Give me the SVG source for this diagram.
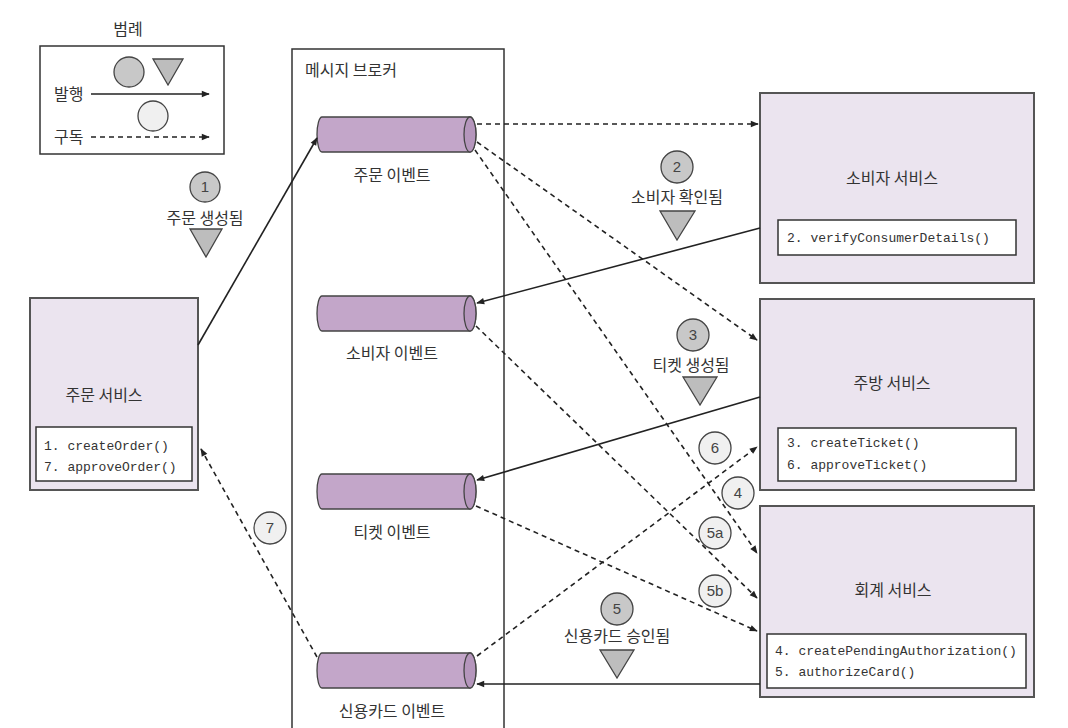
<svg xmlns="http://www.w3.org/2000/svg" width="1068" height="728" viewBox="0 0 1068 728">
<style>
.t{font-family:"Noto Sans CJK KR","Liberation Sans",sans-serif;font-size:16px;fill:#333}
.c{font-family:"Liberation Mono","DejaVu Sans Mono",monospace;font-size:13px;fill:#333}
.n{font-family:"Liberation Sans",sans-serif;font-size:15px;fill:#444;text-anchor:middle}
.svc{fill:#ebe4ef;stroke:#555;stroke-width:2}
.inner{fill:#fff;stroke:#333;stroke-width:1.5}
.cyl{fill:#c3a6c9;stroke:#444;stroke-width:1.3}
.cylend{fill:#b596bc;stroke:#444;stroke-width:1.3}
.pub{fill:none;stroke:#222;stroke-width:1.6}
.sub{fill:none;stroke:#222;stroke-width:1.6;stroke-dasharray:5,4}
.gc{fill:#c8c8c8;stroke:#444;stroke-width:1.3}
.wc{fill:#f0f0f0;stroke:#444;stroke-width:1.3}
.tri{fill:#bdbdbd;stroke:#444;stroke-width:1.3}
</style>
<defs>
<marker id="ah" viewBox="0 0 10 10" refX="9" refY="5" markerWidth="10" markerHeight="8" markerUnits="userSpaceOnUse" orient="auto">
<path d="M0,1 L10,5 L0,9 Z" fill="#222"/>
</marker>
</defs>
<rect width="1068" height="728" fill="#fff"/>

<g id="legend">
<text class="t" x="128" y="35" text-anchor="middle">범례</text>
<rect x="40" y="46" width="184" height="108" fill="#fff" stroke="#333" stroke-width="1.5"/>
<circle class="gc" cx="129" cy="72" r="15"/>
<polygon class="tri" points="153,59 183,59 168,85"/>
<text class="t" x="54" y="100">발행</text>
<line class="pub" x1="91" y1="94" x2="209" y2="94" marker-end="url(#ah)"/>
<circle class="wc" cx="153" cy="116" r="15"/>
<text class="t" x="54" y="143">구독</text>
<line class="sub" x1="91" y1="137" x2="209" y2="137" marker-end="url(#ah)"/>
</g>

<g id="broker">
<rect x="292" y="49" width="212" height="700" fill="none" stroke="#333" stroke-width="1.5"/>
<text class="t" x="305" y="76">메시지 브로커</text>
</g>

<g id="order-events">
<path class="cyl" d="M322,117 L470,117 A6,17.5 0 0 1 470,152 L322,152 A5,17.5 0 0 1 322,117 Z"/>
<ellipse class="cylend" cx="470" cy="134.5" rx="6" ry="17.5"/>
<text class="t" x="392" y="181" text-anchor="middle">주문 이벤트</text>
</g>
<g id="consumer-events">
<path class="cyl" d="M322,296 L470,296 A6,17.5 0 0 1 470,331 L322,331 A5,17.5 0 0 1 322,296 Z"/>
<ellipse class="cylend" cx="470" cy="313.5" rx="6" ry="17.5"/>
<text class="t" x="392" y="359" text-anchor="middle">소비자 이벤트</text>
</g>
<g id="ticket-events">
<path class="cyl" d="M322,474 L470,474 A6,17.5 0 0 1 470,509 L322,509 A5,17.5 0 0 1 322,474 Z"/>
<ellipse class="cylend" cx="470" cy="491.5" rx="6" ry="17.5"/>
<text class="t" x="392" y="538" text-anchor="middle">티켓 이벤트</text>
</g>
<g id="card-events">
<path class="cyl" d="M322,653 L470,653 A6,17.5 0 0 1 470,688 L322,688 A5,17.5 0 0 1 322,653 Z"/>
<ellipse class="cylend" cx="470" cy="670.5" rx="6" ry="17.5"/>
<text class="t" x="392" y="717" text-anchor="middle">신용카드 이벤트</text>
</g>

<g id="order-service">
<rect class="svc" x="30" y="298" width="168" height="192"/>
<text class="t" x="104" y="401" text-anchor="middle">주문 서비스</text>
<rect class="inner" x="36" y="427" width="156" height="54"/>
<text class="c" x="44" y="450">1. createOrder()</text>
<text class="c" x="44" y="471">7. approveOrder()</text>
</g>

<g id="consumer-service">
<rect class="svc" x="760" y="93" width="274" height="190"/>
<text class="t" x="892" y="184" text-anchor="middle">소비자 서비스</text>
<rect class="inner" x="778" y="220" width="238" height="35"/>
<text class="c" x="787" y="242">2. verifyConsumerDetails()</text>
</g>

<g id="kitchen-service">
<rect class="svc" x="760" y="299" width="274" height="191"/>
<text class="t" x="892" y="389" text-anchor="middle">주방 서비스</text>
<rect class="inner" x="778" y="428" width="238" height="53"/>
<text class="c" x="787" y="447">3. createTicket()</text>
<text class="c" x="787" y="469">6. approveTicket()</text>
</g>

<g id="accounting-service">
<rect class="svc" x="760" y="506" width="274" height="191"/>
<text class="t" x="893" y="596" text-anchor="middle">회계 서비스</text>
<rect class="inner" x="767" y="634" width="259" height="54"/>
<text class="c" x="775" y="655">4. createPendingAuthorization()</text>
<text class="c" x="775" y="676">5. authorizeCard()</text>
</g>

<g id="connectors">
<line class="pub" x1="198" y1="345" x2="317" y2="138" marker-end="url(#ah)"/>
<line class="sub" x1="477" y1="124" x2="758" y2="124" marker-end="url(#ah)"/>
<line class="sub" x1="477" y1="142" x2="757" y2="340" marker-end="url(#ah)"/>
<line class="sub" x1="475" y1="150" x2="757" y2="553" marker-end="url(#ah)"/>
<line class="sub" x1="476" y1="326" x2="757" y2="598" marker-end="url(#ah)"/>
<line class="sub" x1="476" y1="506" x2="757" y2="631" marker-end="url(#ah)"/>
<line class="sub" x1="477" y1="656" x2="757" y2="447" marker-end="url(#ah)"/>
<line class="sub" x1="317" y1="657" x2="201" y2="449" marker-end="url(#ah)"/>
<line class="pub" x1="760" y1="228" x2="477" y2="303" marker-end="url(#ah)"/>
<line class="pub" x1="760" y1="397" x2="477" y2="480" marker-end="url(#ah)"/>
<line class="pub" x1="760" y1="684" x2="477" y2="684" marker-end="url(#ah)"/>
</g>

<g id="label-1">
<circle class="gc" cx="205" cy="187" r="15"/>
<text class="n" x="205" y="192">1</text>
<text class="t" x="205" y="224" text-anchor="middle">주문 생성됨</text>
<polygon class="tri" points="190,229 222,229 206,257"/>
</g>
<g id="label-2">
<circle class="gc" cx="677" cy="167" r="16"/>
<text class="n" x="677" y="172">2</text>
<text class="t" x="677" y="203" text-anchor="middle">소비자 확인됨</text>
<polygon class="tri" points="660,211 695,211 677,240"/>
</g>
<g id="label-3">
<circle class="gc" cx="693" cy="335" r="16"/>
<text class="n" x="693" y="340">3</text>
<text class="t" x="691" y="371" text-anchor="middle">티켓 생성됨</text>
<polygon class="tri" points="683,377 717,377 700,405"/>
</g>
<g id="label-5">
<circle class="gc" cx="617" cy="609" r="16"/>
<text class="n" x="617" y="614">5</text>
<text class="t" x="617" y="642" text-anchor="middle">신용카드 승인됨</text>
<polygon class="tri" points="600,650 634,650 617,678"/>
</g>
<g id="label-6">
<circle class="wc" cx="715" cy="448" r="16"/>
<text class="n" x="715" y="453">6</text>
</g>
<g id="label-4">
<circle class="wc" cx="738" cy="493" r="16"/>
<text class="n" x="738" y="498">4</text>
</g>
<g id="label-5a">
<circle class="wc" cx="715" cy="533" r="16"/>
<text class="n" x="715" y="538">5a</text>
</g>
<g id="label-5b">
<circle class="wc" cx="715" cy="591" r="16"/>
<text class="n" x="715" y="596">5b</text>
</g>
<g id="label-7">
<circle class="wc" cx="270" cy="528" r="16"/>
<text class="n" x="270" y="533">7</text>
</g>
</svg>
